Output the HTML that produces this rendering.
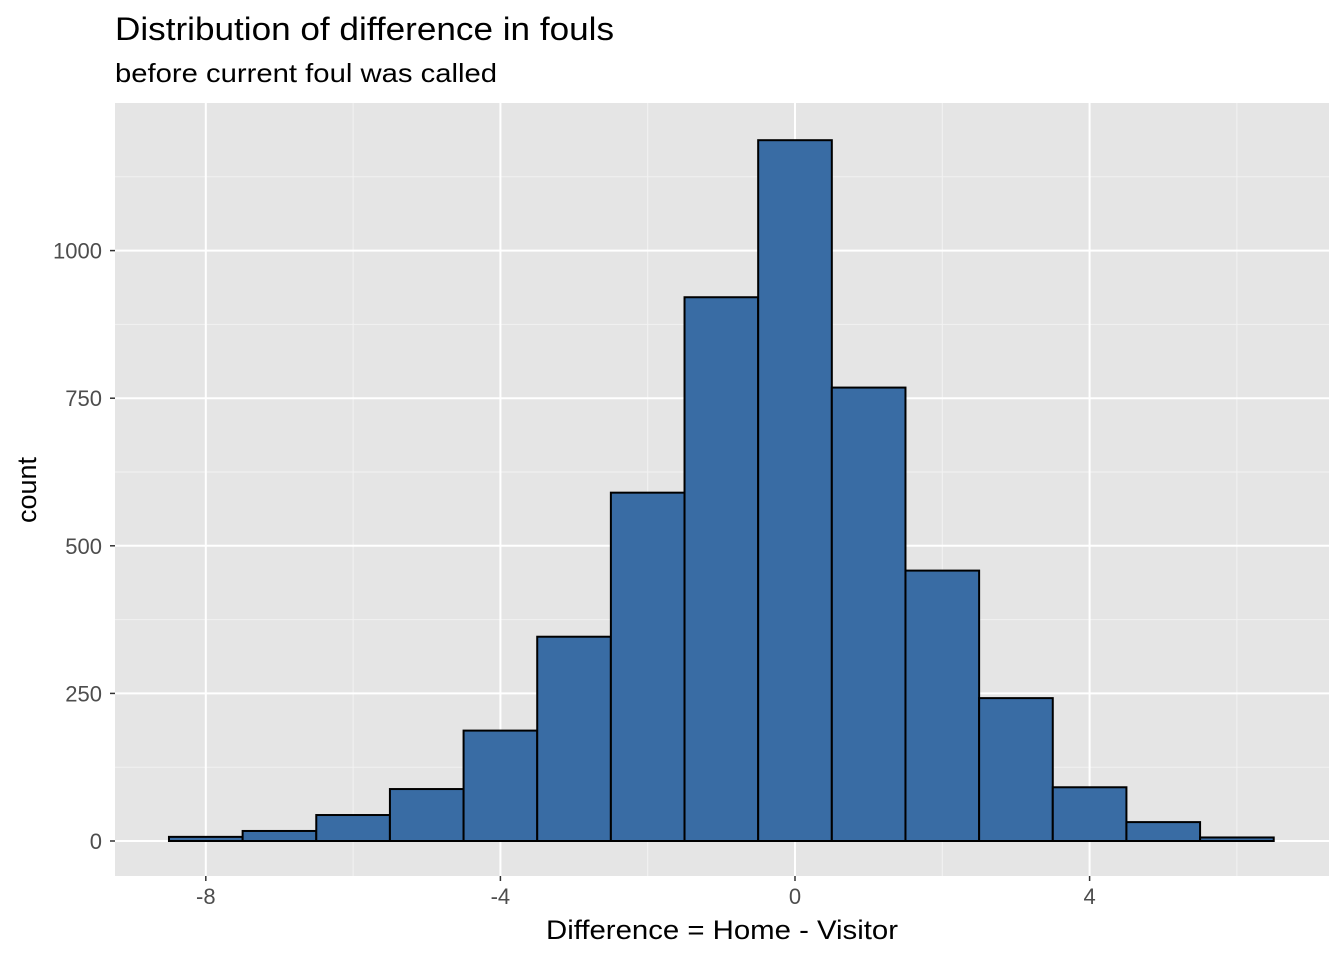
<!DOCTYPE html>
<html><head><meta charset="utf-8"><style>
body{margin:0;background:#fff;width:1344px;height:960px;overflow:hidden;font-family:"Liberation Sans",Arial,sans-serif}
</style></head><body>
<svg width="1344" height="960" id="chart" font-family="Liberation Sans, Arial, sans-serif">
<text x="115" y="40" font-size="32" textLength="499" lengthAdjust="spacingAndGlyphs" fill="#000">Distribution of difference in fouls</text>
<text x="115" y="82" font-size="26" textLength="382" lengthAdjust="spacingAndGlyphs" fill="#000">before current foul was called</text>
<rect x="115" y="103" width="1214" height="773" fill="#e5e5e5"/>
<g id="grid"></g><g id="bars"></g><g id="axes"></g>
<text x="722" y="939" font-size="27" textLength="352" lengthAdjust="spacingAndGlyphs" text-anchor="middle">Difference = Home - Visitor</text>
<text transform="translate(36,490) rotate(-90)" font-size="27" text-anchor="middle">count</text>
</svg>
<script>
const binCenters=[-8,-7,-6,-5,-4,-3,-2,-1,0,1,2,3,4,5,6];
const counts=[7,17,44,88,187,346,590,921,1187,768,458,242,91,32,6];
const xTicks=[-8,-4,0,4];
const xMinor=[-6,-2,2,6];
const yTicks=[0,250,500,750,1000];
const yMinor=[125,375,625,875,1125];
const X=v=>795+v*73.65;
const Y=v=>841-v*0.5904;
const ns="http://www.w3.org/2000/svg";
function mk(p,t,a){const e=document.createElementNS(ns,t);for(const k in a)e.setAttribute(k,a[k]);p.appendChild(e);return e;}
const g=document.getElementById('grid'),b=document.getElementById('bars'),ax=document.getElementById('axes');
xMinor.forEach(v=>{const e=mk(g,'line',{x1:X(v),x2:X(v),y1:103,y2:876,stroke:'#f2f2f2','stroke-width':1});

});
yMinor.forEach(v=>{const e=mk(g,'line',{x1:115,x2:1329,y1:Y(v),y2:Y(v),stroke:'#f2f2f2','stroke-width':1});

});
xTicks.forEach(v=>{const e=mk(g,'line',{x1:X(v),x2:X(v),y1:103,y2:876,stroke:'#fff','stroke-width':2});


const tk=mk(ax,'line',{x1:X(v),x2:X(v),y1:876,y2:881,stroke:'#333','stroke-width':1.5});


const t=mk(ax,'text',{x:X(v),y:904,'font-size':22,'text-anchor':'middle',fill:'#4d4d4d'});t.textContent=v;

});
yTicks.forEach(v=>{const e=mk(g,'line',{x1:115,x2:1329,y1:Y(v),y2:Y(v),stroke:'#fff','stroke-width':2});


const tk=mk(ax,'line',{x1:110,x2:115,y1:Y(v),y2:Y(v),stroke:'#333','stroke-width':1.5});


const t=mk(ax,'text',{x:102,y:Y(v)+8,'font-size':22,'text-anchor':'end',fill:'#4d4d4d'});t.textContent=v;

});
binCenters.forEach((c,i)=>{const r=mk(b,'rect',{x:X(c-0.5),y:Y(counts[i]),width:X(c+0.5)-X(c-0.5),height:Y(0)-Y(counts[i]),fill:'#396ca4',stroke:'#000','stroke-width':2});

});
</script>
</body></html>
